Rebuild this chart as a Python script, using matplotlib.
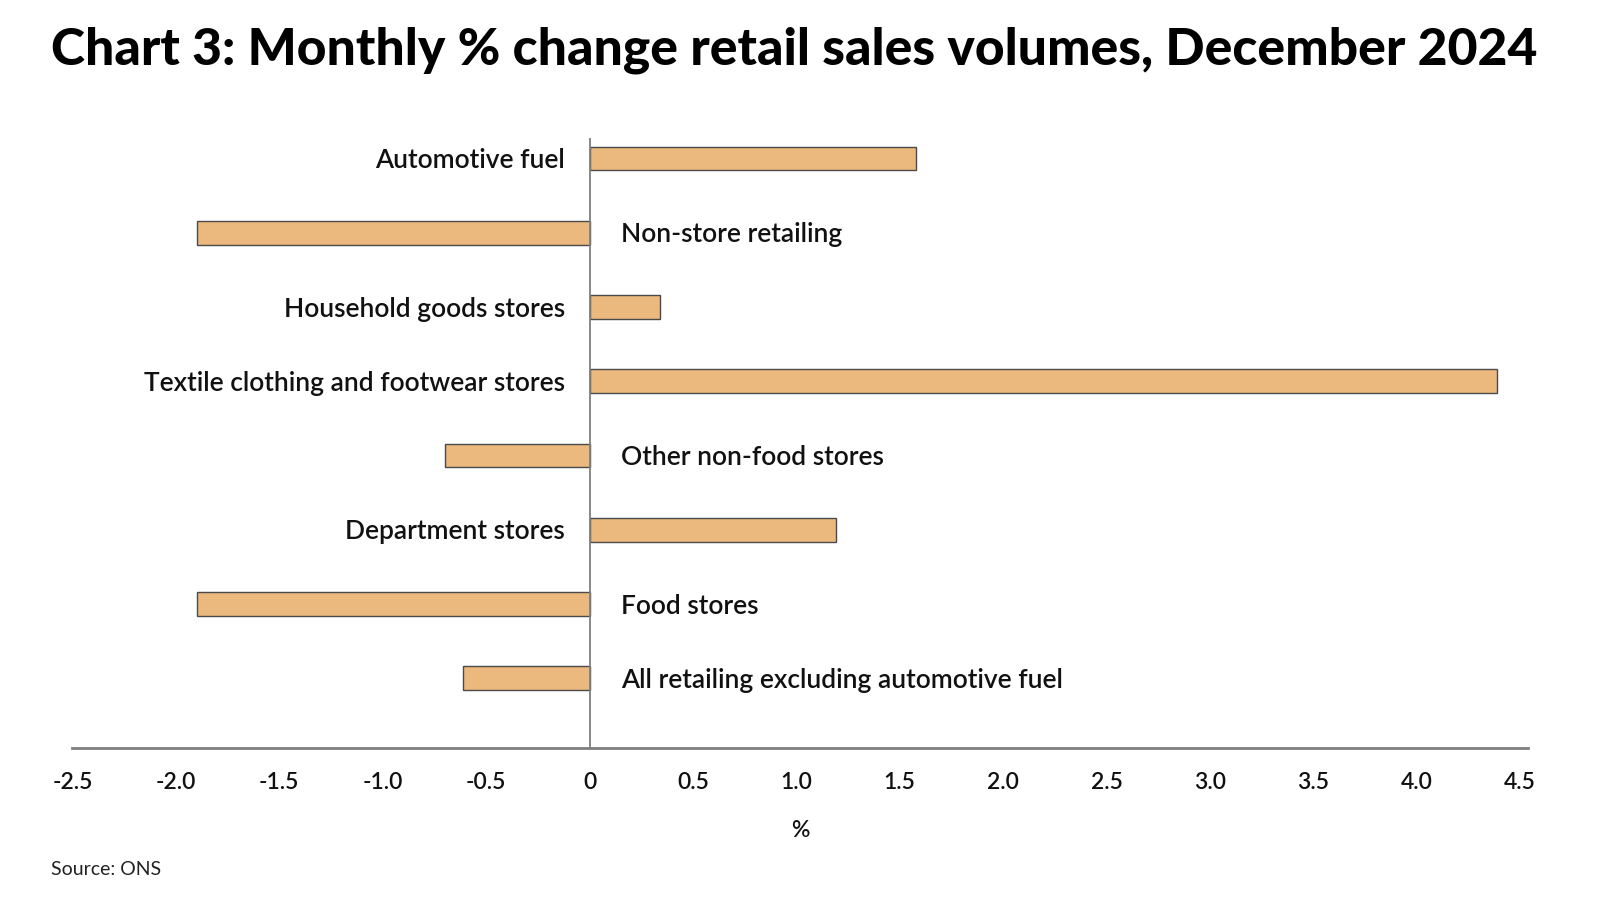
import matplotlib.pyplot as plt
import numpy as np

categories = [
    "Automotive fuel",
    "Non-store retailing",
    "Household goods stores",
    "Textile clothing and footwear stores",
    "Other non-food stores",
    "Department stores",
    "Food stores",
    "All retailing excluding automotive fuel",
]
values = [1.58, -1.9, 0.34, 4.39, -0.7, 1.19, -1.9, -0.61]
tick_values = [-2.5, -2.0, -1.5, -1.0, -0.5, 0, 0.5, 1.0, 1.5, 2.0, 2.5, 3.0, 3.5, 4.0, 4.5]
tick_labels = ["-2.5", "-2.0", "-1.5", "-1.0", "-0.5", "0", "0.5", "1.0", "1.5",
               "2.0", "2.5", "3.0", "3.5", "4.0", "4.5"]

plt.rcParams["font.family"] = ["Lato", "DejaVu Sans"]

fig = plt.figure(figsize=(16, 9), dpi=100)
ax = fig.add_axes([0.0453, 0.169, 0.91, 0.678])

ypos = np.arange(len(categories))[::-1]
ax.barh(ypos, values, height=0.32, color="#EBB97E", edgecolor="#4a4a4a", linewidth=1.0, zorder=2)

for y, v, name in zip(ypos, values, categories):
    if v >= 0:
        ax.text(-0.12, y - 0.03, name, ha="right", va="center", fontsize=19,
                fontweight="semibold", color="#111111")
    else:
        ax.text(0.15, y - 0.03, name, ha="left", va="center", fontsize=19,
                fontweight="semibold", color="#111111")

ax.axvline(0, color="#7f7f7f", linewidth=1.3, zorder=3)
ax.set_xlim(-2.5, 4.54)
ax.set_ylim(-0.94, 7.28)
ax.set_xticks(tick_values)
ax.set_xticklabels(tick_labels, fontsize=16.5, fontweight="semibold", color="#111111")
ax.set_yticks([])
ax.tick_params(axis="x", length=0, pad=17)
for s in ["top", "right", "left"]:
    ax.spines[s].set_visible(False)
ax.spines["bottom"].set_color("#7f7f7f")
ax.spines["bottom"].set_linewidth(2)
ax.set_xlabel("%", fontsize=16.5, fontweight="semibold", labelpad=20, color="#111111")

fig.text(0.032, 0.944, "Chart 3: Monthly % change retail sales volumes, December 2024",
         fontsize=37.2, fontweight="black", ha="left", va="center", color="#000000")
fig.text(0.032, 0.034, "Source: ONS", fontsize=14, ha="left", va="center", color="#222222")

fig.savefig("out.png", dpi=100)
